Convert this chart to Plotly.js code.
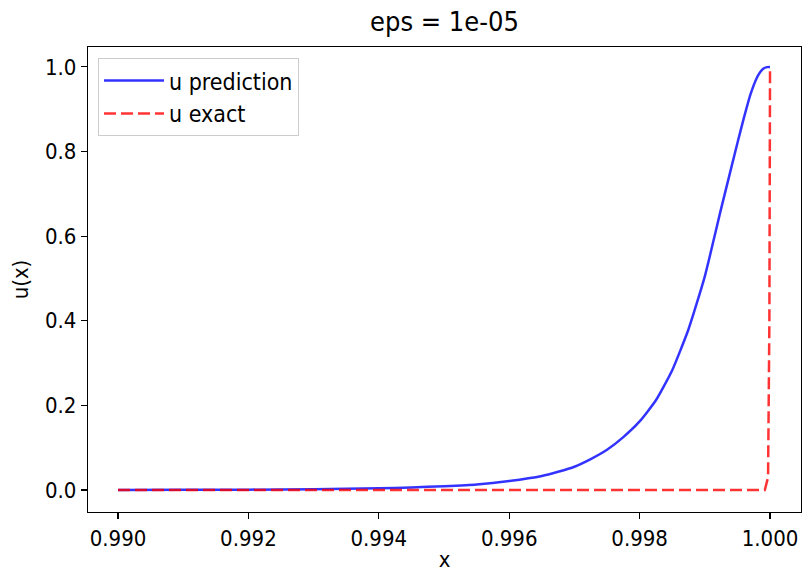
<!DOCTYPE html>
<html>
<head>
<meta charset="utf-8">
<script src="https://cdn.plot.ly/plotly-3.0.1.min.js"></script>
<style>html,body{margin:0;padding:0;background:#fff;}#chart{width:802px;height:572px;}</style>
</head>
<body>
<div id="chart"></div>
<script>
// u prediction (blue solid)
var xPred = [0.990, 0.991, 0.992, 0.993, 0.994, 0.9945, 0.995, 0.9955, 0.996, 0.9965, 0.99675, 0.997, 0.99725, 0.9975, 0.99775, 0.998, 0.99825, 0.9985, 0.99875, 0.999, 0.99925, 0.9995, 0.9996, 0.9997, 0.9998, 0.99985, 0.9999, 0.99995, 1.0];
var uPred = [0.0, 0.0003, 0.0008, 0.0018, 0.004, 0.006, 0.009, 0.013, 0.021, 0.033, 0.043, 0.055, 0.073, 0.095, 0.125, 0.162, 0.212, 0.283, 0.38, 0.505, 0.665, 0.82, 0.88, 0.935, 0.975, 0.988, 0.996, 0.9995, 1.0];
// u exact (red dashed)
var xExact = [0.990, 0.9995, 0.99992, 0.99997, 0.99999, 1.0];
var uExact = [0.0, 0.0, 0.0, 0.03, 0.4, 1.0];

var xTicks = [0.990, 0.992, 0.994, 0.996, 0.998, 1.000];
var yTicks = [0.0, 0.2, 0.4, 0.6, 0.8, 1.0];

var FONT = "DejaVu Sans Condensed, DejaVu Sans, sans-serif";

var traces = [
  {x: xPred, y: uPred, type: 'scatter', mode: 'lines', name: 'u prediction',
   line: {color: 'rgba(0,0,255,0.8)', width: 2.5, shape: 'spline', smoothing: 0.5}},
  {x: xExact, y: uExact, type: 'scatter', mode: 'lines', name: 'u exact',
   line: {color: 'rgba(255,0,0,0.8)', width: 2.5, dash: '12px,5px'}}
];

var layout = {
  width: 802, height: 572,
  margin: {l: 88, r: 1, t: 47, b: 60, pad: 0},
  paper_bgcolor: '#ffffff', plot_bgcolor: '#ffffff',
  font: {family: FONT, size: 22, color: '#000'},
  title: {text: 'eps = 1e-05', font: {family: FONT, size: 27, color: '#000'},
          x: 0.5, xref: 'paper', xanchor: 'center', y: 1 - 22/572, yref: 'container', yanchor: 'middle'},
  showlegend: true,
  legend: {x: 0.014, y: 0.976, xanchor: 'left', yanchor: 'top', itemwidth: 60,
           bordercolor: '#cccccc', borderwidth: 1, bgcolor: 'rgba(255,255,255,0.8)',
           font: {family: FONT, size: 23, color: '#000'}},
  xaxis: {range: [0.98954, 1.000475], tickvals: xTicks, ticktext: xTicks.map(function(v){return v.toFixed(3);}),
          showgrid: false, zeroline: false, showline: true, linecolor: '#000', linewidth: 1.2, mirror: true,
          ticks: 'outside', ticklen: 6, tickcolor: '#000', tickwidth: 1.2,
          tickfont: {family: FONT, size: 22, color: '#000'},
          title: {text: 'x', font: {family: FONT, size: 22, color: '#000'}, standoff: 16}},
  yaxis: {range: [-0.052, 1.047], tickvals: yTicks, ticktext: yTicks.map(function(v){return v.toFixed(1);}),
          showgrid: false, zeroline: false, showline: true, linecolor: '#000', linewidth: 1.2, mirror: true,
          ticks: 'outside', ticklen: 6, tickcolor: '#000', tickwidth: 1.2,
          tickfont: {family: FONT, size: 22, color: '#000'},
          title: {text: 'u(x)', font: {family: FONT, size: 22, color: '#000'}, standoff: 10}}
};

Plotly.newPlot('chart', traces, layout, {displayModeBar: false, staticPlot: true});
</script>
</body>
</html>
